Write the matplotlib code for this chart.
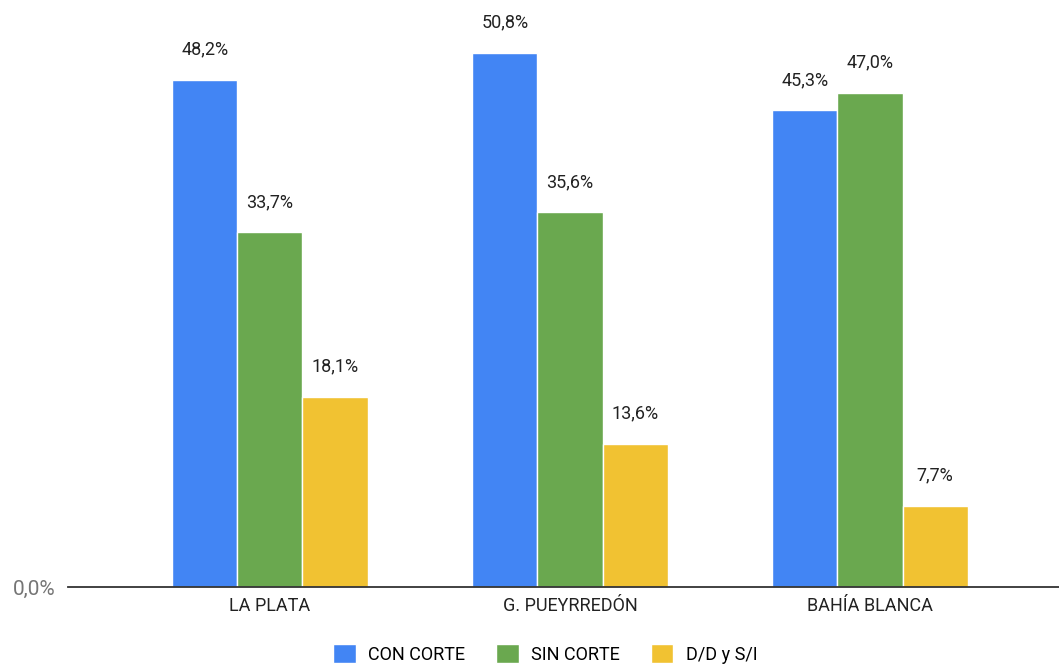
import matplotlib.pyplot as plt
import numpy as np

plt.rcParams['font.family'] = ['Roboto', 'DejaVu Sans']

# Datos
categorias = ['LA PLATA', 'G. PUEYRREDÓN', 'BAHÍA BLANCA']
series = ['CON CORTE', 'SIN CORTE', 'D/D y S/I']
con_corte = [48.2, 50.8, 45.3]
sin_corte = [33.7, 35.6, 47.0]
dd_si = [18.1, 13.6, 7.7]
colores = ['#4285F4', '#6AA84F', '#F1C232']

fig = plt.figure(figsize=(10.59, 6.64), dpi=100)
ax = fig.add_axes([68 / 1059, 77 / 664, 1 - 68 / 1059, 587 / 664])

x = np.arange(len(categorias))
width = 0.217
valores = [con_corte, sin_corte, dd_si]

for i, (vals, nombre, color) in enumerate(zip(valores, series, colores)):
    pos = x + (i - 1) * width
    bars = ax.bar(pos, vals, width, color=color, edgecolor='white', linewidth=1, label=nombre)
    for b, v in zip(bars, vals):
        ax.annotate(f'{v:.1f}%'.replace('.', ','), (b.get_x() + b.get_width() / 2, v),
                    xytext=(0, 15.5), textcoords='offset points',
                    ha='center', va='bottom', fontsize=13, color='#222222')

ax.set_xlim(-0.673, 2.63)
ax.set_ylim(0, 55.8)
ax.set_xticks(x)
ax.set_xticklabels(categorias, fontsize=13, color='#222222')
ax.set_yticks([0])
ax.set_yticklabels(['0,0%'], fontsize=15, color='#757575')
ax.tick_params(axis='both', length=0)
ax.tick_params(axis='x', pad=7)
ax.tick_params(axis='y', pad=9)

for s in ['top', 'right', 'left']:
    ax.spines[s].set_visible(False)
ax.spines['bottom'].set_color('#333333')
ax.spines['bottom'].set_linewidth(1.3)

fig.legend(loc='center', bbox_to_anchor=(0.515, 0.015), ncol=3, frameon=False,
           fontsize=13, handlelength=1.25, handleheight=1.25,
           handletextpad=0.7, columnspacing=1.7)

plt.savefig('out.png', dpi=100)
